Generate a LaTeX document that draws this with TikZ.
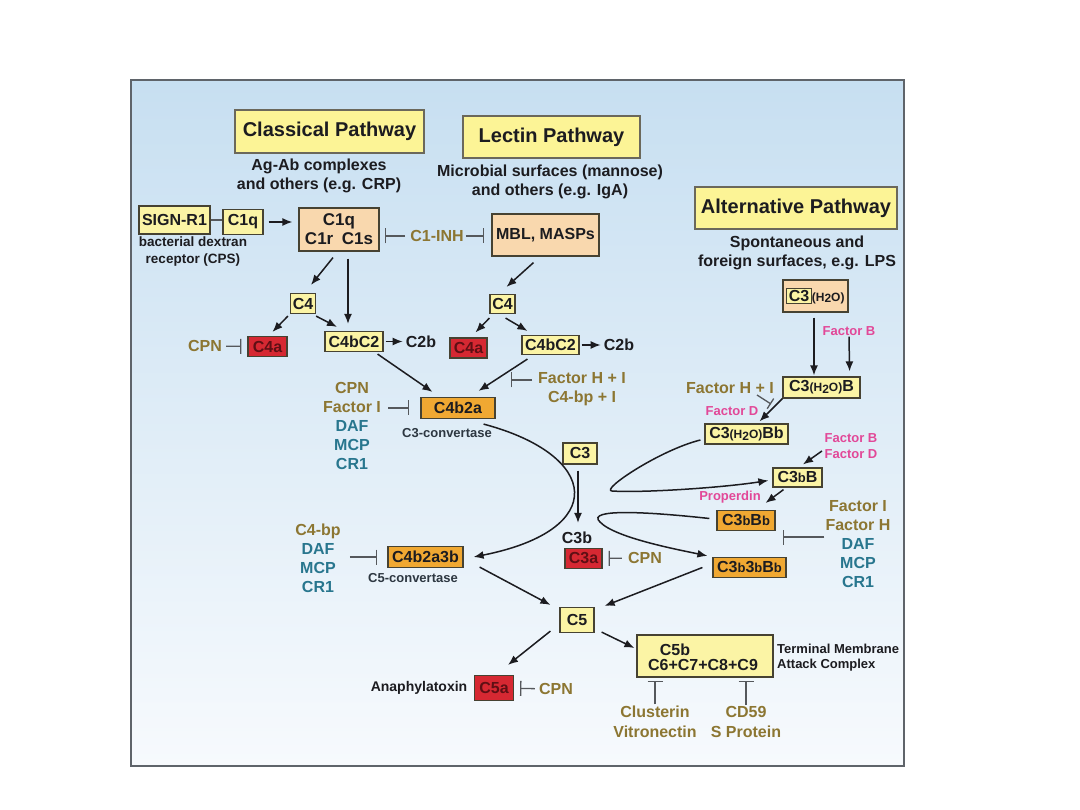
\documentclass[tikz,border=0pt]{standalone}
\usepackage{fontspec}
\setmainfont{Liberation Sans}
\usetikzlibrary{arrows.meta,calc}
\definecolor{cmpInk}{RGB}{28,28,32}
\definecolor{cmpSlate}{RGB}{45,55,65}
\definecolor{cmpLine}{RGB}{70,66,50}
\definecolor{cmpTitle}{RGB}{252,244,150}
\definecolor{cmpYel}{RGB}{251,244,165}
\definecolor{cmpPeach}{RGB}{249,216,174}
\definecolor{cmpOrange}{RGB}{240,168,50}
\definecolor{cmpRed}{RGB}{214,40,50}
\definecolor{cmpRedTxt}{RGB}{95,15,20}
\definecolor{cmpOlive}{RGB}{140,118,50}
\definecolor{cmpTeal}{RGB}{40,118,142}
\definecolor{cmpPink}{RGB}{226,72,152}
\definecolor{cmpBar}{RGB}{85,88,92}
\definecolor{cmpSkyTop}{RGB}{199,223,241}
\definecolor{cmpSkyMid}{RGB}{222,235,246}
\definecolor{cmpSkyBot}{RGB}{247,250,253}
\definecolor{cmpFrame}{RGB}{95,100,106}
\newcommand{\cfont}[2]{\fontsize{#1}{#2}\selectfont\bfseries}
\newcommand{\lowsz}[1]{{\fontsize{13}{13}\selectfont #1}}
\newcommand{\waterlbl}{{\fontsize{12}{12}\selectfont(H\raisebox{-1.5pt}{2}O)}}
\setlength{\fboxsep}{1.5pt}
\setlength{\fboxrule}{1pt}

\begin{document}
\begin{tikzpicture}[x=1pt,y=-1pt]
  \tikzset{
    ttl/.style={draw=cmpLine!80,line width=1.4pt,fill=cmpTitle,inner sep=0pt,font=\cfont{20}{24},text=cmpInk},
    sub/.style={align=center,inner sep=1pt,font=\cfont{16}{19},text=cmpInk},
    note/.style={align=center,inner sep=1pt,font=\cfont{13.5}{17},text=cmpInk},
    cbox/.style={draw=cmpLine,line width=1.2pt,inner sep=0pt,font=\cfont{16}{19},text=cmpInk},
    ybox/.style={cbox,fill=cmpYel},
    pbox/.style={cbox,fill=cmpPeach},
    obox/.style={cbox,fill=cmpOrange},
    rbox/.style={cbox,fill=cmpRed,text=cmpRedTxt},
    olv/.style={align=center,inner sep=1pt,font=\cfont{16}{19},text=cmpOlive},
    pk/.style={align=center,inner sep=1pt,font=\cfont{13}{16},text=cmpPink},
    act/.style={draw=cmpInk,line width=1.5pt,-{Latex[length=10pt,width=8pt]}},
    inh/.style={draw=cmpBar,line width=1.3pt,-{Bar[width=15pt]}}
  }
  \useasboundingbox (0,0) rectangle (1080,810);
  \shade[top color=cmpSkyTop,middle color=cmpSkyMid,bottom color=cmpSkyBot] (131,80) rectangle (904,766);
  \draw[cmpFrame,line width=2.5pt] (131,80) rectangle (904,766);

  \node[ttl,minimum width=189pt,minimum height=43pt] (clsT) at (329.5,131.5) {Classical Pathway};
  \node[sub] (clsS) at (319,175.5) {Ag-Ab complexes\\and others (e.g. CRP)};
  \node[ttl,minimum width=177pt,minimum height=42pt] (lecT) at (551.5,137) {Lectin Pathway};
  \node[sub] (lecS) at (550,181.5) {Microbial surfaces (mannose)\\and others (e.g. IgA)};
  \node[ttl,minimum width=202pt,minimum height=42pt] (altT) at (796,208) {Alternative Pathway};
  \node[sub] (altS) at (797,252.5) {Spontaneous and\\foreign surfaces, e.g. LPS};

  \node[ybox,minimum width=71pt,minimum height=28pt] (sign) at (174.5,220) {SIGN-R1};
  \node[ybox,minimum width=40pt,minimum height=25pt] (c1qS) at (243,222) {C1q};
  \node[note] (dext) at (193,251.5) {bacterial dextran\\receptor (CPS)};
  \node[pbox,minimum width=80pt,minimum height=43pt,align=center,font=\cfont{17}{19}] (c1) at (339,229.5) {C1q\\C1r\enspace C1s};
  \node[olv] (c1inh) at (437,236) {C1-INH};
  \node[pbox,minimum width=107pt,minimum height=42pt] (mbl) at (545.5,235) {MBL, MASPs};

  \node[ybox,minimum width=25pt,minimum height=20pt] (c4C) at (303,303.5) {C4};
  \node[rbox,minimum width=39pt,minimum height=20pt] (c4aC) at (267.5,346.5) {C4a};
  \node[olv] (cpnC) at (205,346) {CPN};
  \node[ybox,minimum width=58pt,minimum height=20pt] (c4bc2C) at (354,341.5) {C4bC2};
  \node[sub] (c2bC) at (421,341.5) {C2b};
  \node[obox,minimum width=74pt,minimum height=21pt] (c4b2a) at (458,408) {C4b2a};
  \node[note,font=\cfont{13}{16},text=cmpSlate] (conv3) at (447,433) {C3-convertase};
  \node[olv] (inhC) at (352,425.5) {CPN\\Factor I\\\textcolor{cmpTeal}{DAF}\\\textcolor{cmpTeal}{MCP}\\\textcolor{cmpTeal}{CR1}};

  \node[ybox,minimum width=25pt,minimum height=19pt] (c4L) at (502.5,304) {C4};
  \node[rbox,minimum width=37pt,minimum height=20pt] (c4aL) at (468.5,348) {C4a};
  \node[ybox,minimum width=57pt,minimum height=19pt] (c4bc2L) at (550.5,345) {C4bC2};
  \node[sub] (c2bL) at (619,345) {C2b};
  \node[olv] (inhL) at (582,389.5) {Factor H + I\\C4-bp + I};

  \node[pbox,minimum width=65pt,minimum height=32pt] (c3w) at (815.5,296) {\fcolorbox{cmpLine}{cmpYel}{C3}\waterlbl};
  \node[pk] (fb1) at (849,331) {Factor B};
  \node[ybox,minimum width=77pt,minimum height=21pt] (c3wB) at (821.5,387.5) {C3\waterlbl B};
  \node[olv] (fhi) at (730,388) {Factor H + I};
  \node[pk] (fd1) at (732,411) {Factor D};
  \node[ybox,minimum width=83pt,minimum height=20pt] (c3wBb) at (746.5,434) {C3\waterlbl Bb};
  \node[pk] (fbd) at (851,446) {Factor B\\Factor D};
  \node[ybox,minimum width=49pt,minimum height=19pt] (c3bB) at (797.5,477.5) {C3\lowsz{b}B};
  \node[pk] (prop) at (730,497) {Properdin};
  \node[obox,minimum width=58pt,minimum height=20pt] (c3bBb) at (746,520.5) {C3\lowsz{b}B\lowsz{b}};
  \node[olv] (inhR) at (858,544.5) {Factor I\\Factor H\\\textcolor{cmpTeal}{DAF}\\\textcolor{cmpTeal}{MCP}\\\textcolor{cmpTeal}{CR1}};
  \node[obox,minimum width=73pt,minimum height=20pt] (c3b3bBb) at (749.5,567.5) {C3\lowsz{b}3\lowsz{b}B\lowsz{b}};

  \node[ybox,minimum width=34pt,minimum height=21pt] (c3) at (580,453.5) {C3};
  \node[sub] (c3b) at (577,538) {C3b};
  \node[rbox,minimum width=37pt,minimum height=20pt] (c3a) at (583.5,558.5) {C3a};
  \node[olv] (cpnM) at (645,558) {CPN};

  \node[obox,minimum width=75pt,minimum height=21pt] (c4b2a3b) at (425.5,557) {C4b2a3b};
  \node[note,font=\cfont{13}{16},text=cmpSlate] (conv5) at (413,578) {C5-convertase};
  \node[olv] (inhM) at (318,558.5) {C4-bp\\\textcolor{cmpTeal}{DAF}\\\textcolor{cmpTeal}{MCP}\\\textcolor{cmpTeal}{CR1}};

  \node[ybox,minimum width=34pt,minimum height=25pt] (c5) at (577,620) {C5};
  \node[rbox,minimum width=39pt,minimum height=25pt] (c5a) at (494,688) {C5a};
  \node[note,font=\cfont{14}{17}] (anaph) at (419,688) {Anaphylatoxin};
  \node[olv] (cpnB) at (556,689) {CPN};
  \node[ybox,minimum width=136pt,minimum height=42pt] (c5b) at (705,656) {};
  \node[sub] (c5bA) at (675,650) {C5b};
  \node[sub] (c5bB) at (703,665) {C6+C7+C8+C9};
  \node[note,align=left,anchor=west,font=\cfont{13}{15}] (mac) at (776,657.5) {Terminal Membrane\\Attack Complex};
  \node[olv,font=\cfont{16}{20}] (clus) at (655,721.5) {Clusterin\\Vitronectin};
  \node[olv,font=\cfont{16}{20}] (cd59) at (746,721.5) {CD59\\S Protein};

  \coordinate (blkL) at (511,380);
  \coordinate (blkR) at (783,537);
  \coordinate (hiA) at (757,395);
  \coordinate (hiB) at (771,404);

  \draw[draw=cmpBar,line width=1.2pt] (sign.east) -- (sign.east -| c1qS.west);
  \draw[act,shorten <=5pt,shorten >=6pt] (c1qS.east) -- (c1qS.east -| c1.west);
  \draw[act] ($(c1.south)+(-6,6)$) -- ($(c4C.north)+(8,-8)$);
  \draw[act] ($(c1.south)+(9,7)$) -- ($(c4bc2C.north)+(-6,-7)$);
  \draw[act] ($(c4C.south west)+(-2,2)$) -- ($(c4aC.north)+(5,-4)$);
  \draw[act] ($(c4C.south east)+(0,2)$) -- ($(c4bc2C.north)+(-17,-4)$);
  \draw[act,shorten <=2pt,shorten >=2pt] (c4bc2C) -- (c2bC);
  \draw[act] ($(c4bc2C.south east)+(-6,2)$) -- ($(c4b2a.north west)+(12,-5)$);
  \draw[act] ($(mbl.south)+(-12,6)$) -- ($(c4L.north)+(4,-7)$);
  \draw[act] ($(c4L.south west)+(0,4)$) -- ($(c4aL.north)+(7,-5)$);
  \draw[act] ($(c4L.south east)+(-10,4)$) -- ($(c4bc2L.north west)+(6,-4)$);
  \draw[act,shorten <=2pt,shorten >=2pt] (c4bc2L) -- (c2bL);
  \draw[act] ($(c4bc2L.south west)+(6,4)$) -- ($(c4b2a.north east)+(-17,-6)$);
  \draw[act] ($(c4b2a.south east)+(-12,5)$) .. controls (600,455) and (610,530) .. ($(c4b2a3b.east)+(10,0)$);
  \draw[act] ($(c3.south)+(-2,6)$) -- ($(c3b.north)+(1,-8)$);
  \draw[act] ($(c4b2a3b.south east)+(16,-1)$) -- ($(c5.north west)+(-9,-2)$);
  \draw[act] ($(c3b3bBb.west)+(-10,0)$) -- ($(c5.north east)+(10,-1)$);
  \draw[act] ($(c5.south west)+(-9,-2)$) -- ($(c5a.north)+(14,-10)$);
  \draw[act] ($(c5.south east)+(7,-1)$) -- ($(c5b.west)+(-2,-8)$);

  \draw[act] ($(c3w.south)+(-1.5,5)$) -- ($(c3wB.north)+(-7.5,-1)$);
  \draw[act] (fb1.south) -- ($(c3wB.north east)+(-11,-5)$);
  \draw[act] (c3wB.south west) -- ($(c3wBb.north)+(13,-2)$);
  \draw[act] ($(c3wBb.west)+(-4,6)$) .. controls (660,450) and (600,490) .. (612,491) .. controls (640,493) and (720,488) .. ($(c3bB.west)+(-4,3)$);
  \draw[act] ($(fbd.west)+(-1.5,5)$) -- ($(c3bB.north)+(5.5,-3)$);
  \draw[act] ($(c3bB.south)+(-14,2)$) -- ($(c3bBb.north east)+(-10,-7)$);
  \draw[act] ($(c3bBb.west)+(-7,-2)$) .. controls (650,512) and (585,508) .. (600,522) .. controls (615,538) and (680,550) .. ($(c3b3bBb.north west)+(-5,-1)$);

  \draw[inh,shorten <=3pt,shorten >=6pt] (cpnC) -- (c4aC);
  \draw[inh,shorten <=4pt,shorten >=5pt] (c1inh.west) -- (c1inh.west -| c1.east);
  \draw[inh,shorten <=1pt,shorten >=7pt] (c1inh.east) -- (c1inh.east -| mbl.west);
  \draw[inh,shorten <=6pt,shorten >=11pt] (inhC.east |- c4b2a) -- (c4b2a);
  \draw[inh,shorten <=5pt] (inhL.west |- blkL) -- (blkL);
  \draw[inh,-{Bar[width=12pt]}] (hiA) -- (hiB);
  \draw[inh] (inhR.west |- blkR) -- (blkR);
  \draw[inh,shorten <=8pt,shorten >=10pt] (inhM.east |- c4b2a3b) -- (c4b2a3b);
  \draw[inh,shorten <=5pt,shorten >=6pt] (cpnM) -- (c3a);
  \draw[inh,shorten <=3pt,shorten >=6pt] (cpnB) -- (c5a);
  \draw[inh,shorten >=3pt] (clus.north) -- (clus.north |- c5b.south);
  \draw[inh,shorten >=3pt] (cd59.north) -- (cd59.north |- c5b.south);
\end{tikzpicture}
\end{document}
